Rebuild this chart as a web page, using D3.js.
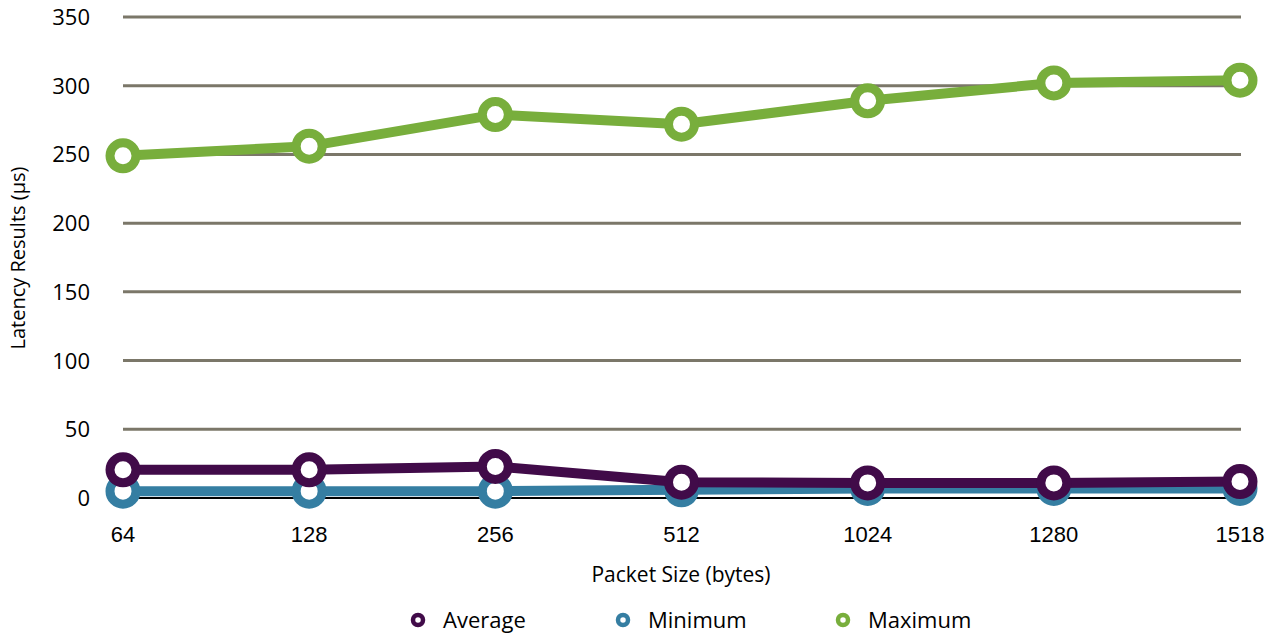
<!DOCTYPE html>
<html>
<head>
<meta charset="utf-8">
<script src="https://cdn.jsdelivr.net/npm/d3@7"></script>
<style>
  body { margin: 0; background: #fff; }
  svg { display: block; }
  .narrow { font-family: "Open Sans", sans-serif; }
</style>
</head>
<body>
<script>
const packetSizes = ['64', '128', '256', '512', '1024', '1280', '1518'];
const averageVals = [20.5, 20.5, 23, 11.5, 11, 11, 12];
const minimumVals = [5, 5, 5, 6, 7, 7, 7];
const maximumVals = [249, 256, 279, 272, 289, 302, 304];
const yTicks = [0, 50, 100, 150, 200, 250, 300, 350];

let WIDTH = 1276, HEIGHT = 635;
let svg = d3.select('body').append('svg').attr('width', WIDTH).attr('height', HEIGHT);

let x = d3.scalePoint().domain(packetSizes).range([123, 1240]);
let y = d3.scaleLinear().domain([0, 350]).range([498, 17]);

// gridlines
svg.append('g').selectAll('line').data(yTicks.filter(d => d > 0)).join('line')
  .attr('x1', 123).attr('x2', 1241)
  .attr('y1', d => y(d)).attr('y2', d => y(d))
  .attr('stroke', '#7b7769').attr('stroke-width', 3);

svg.append('line').attr('x1', 123).attr('x2', 1241).attr('y1', y(0)).attr('y2', y(0))
  .attr('stroke', '#000').attr('stroke-width', 2);

// y tick labels
svg.append('g').selectAll('text').data(yTicks).join('text')
  .attr('class', 'narrow')
  .attr('x', 90).attr('y', d => y(d) + 8)
  .attr('text-anchor', 'end').attr('font-size', 22).attr('fill', '#000')
  .text(d => d);

// x tick labels
svg.append('g').selectAll('text').data(packetSizes).join('text')
  .attr('x', d => x(d)).attr('y', 542)
  .attr('text-anchor', 'middle').attr('font-family', 'Liberation Sans, Arial, sans-serif')
  .attr('font-size', 22).attr('fill', '#000')
  .text(d => d);

svg.append('text').attr('class', 'narrow')
  .attr('x', 681).attr('y', 582).attr('text-anchor', 'middle')
  .attr('font-size', 21).text('Packet Size (bytes)');

svg.append('text').attr('class', 'narrow')
  .attr('transform', 'translate(25,258) rotate(-90)').attr('text-anchor', 'middle')
  .attr('font-size', 20).text('Latency Results (µs)');

const series = [
  {name: 'Minimum', vals: minimumVals, color: '#357ea2'},
  {name: 'Average', vals: averageVals, color: '#410b49'},
  {name: 'Maximum', vals: maximumVals, color: '#78ae3c'}
];

let line = d3.line().x((d, i) => x(packetSizes[i])).y(d => y(d));

series.forEach(s => {
  let g = svg.append('g');
  g.append('path').attr('d', line(s.vals))
    .attr('fill', 'none').attr('stroke', s.color).attr('stroke-width', 10).attr('stroke-linejoin', 'round');
  g.selectAll('circle').data(s.vals).join('circle')
    .attr('cx', (d, i) => x(packetSizes[i])).attr('cy', d => y(d))
    .attr('r', 13).attr('fill', '#fff').attr('stroke', s.color).attr('stroke-width', 9);
});

// legend
const legend = [
  {name: 'Average', color: '#410b49', x: 418},
  {name: 'Minimum', color: '#357ea2', x: 623},
  {name: 'Maximum', color: '#78ae3c', x: 843}
];
let lg = svg.append('g').selectAll('g').data(legend).join('g')
  .attr('transform', d => `translate(${d.x},620)`);
lg.append('circle').attr('r', 5).attr('fill', '#fff')
  .attr('stroke', d => d.color).attr('stroke-width', 4.5);
lg.append('text').attr('class', 'narrow').attr('x', 25).attr('y', 8)
  .attr('font-size', 22).text(d => d.name);
</script>
</body>
</html>
